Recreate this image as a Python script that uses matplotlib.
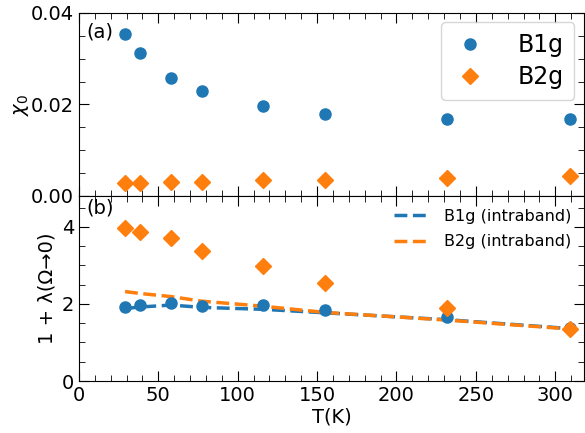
import matplotlib
matplotlib.use("Agg")
import matplotlib.pyplot as plt
from matplotlib.ticker import MultipleLocator

T = [29.0, 38.7, 58.0, 77.4, 116.0, 154.7, 232.1, 309.4]
chi0_b1g = [0.0353, 0.0313, 0.0258, 0.0230, 0.0196, 0.0179, 0.0168, 0.0168]
chi0_b2g = [0.0028, 0.0028, 0.0030, 0.0031, 0.0034, 0.0035, 0.0039, 0.0043]
lam_b1g = [1.91, 1.97, 2.03, 1.95, 1.96, 1.85, 1.67, 1.38]
lam_b2g = [3.98, 3.86, 3.70, 3.37, 2.99, 2.54, 1.90, 1.36]
intra_b1g = [1.88, 1.92, 1.97, 1.91, 1.86, 1.77, 1.59, 1.36]
intra_b2g = [2.32, 2.27, 2.19, 2.07, 1.94, 1.78, 1.58, 1.35]

blue = "#1f77b4"
orange = "#ff7f0e"

fig = plt.figure(figsize=(5.85, 4.33), dpi=100)
ax1 = fig.add_axes([0.135, 0.5475, 0.863, 0.4225])
ax2 = fig.add_axes([0.135, 0.12, 0.863, 0.4275], sharex=ax1)

fs = 14
for ax in (ax1, ax2):
    ax.tick_params(direction="in", which="both", top=True, right=True, labelsize=fs)
    ax.tick_params(which="major", length=7)
    ax.tick_params(which="minor", length=4)
    ax.xaxis.set_major_locator(MultipleLocator(50))
    ax.xaxis.set_minor_locator(MultipleLocator(10))

ax1.plot(T, chi0_b1g, "o", color=blue, ms=8, ls="none", label="B1g")
ax1.plot(T, chi0_b2g, "D", color=orange, ms=8, ls="none", label="B2g")
ax1.set_ylim(0, 0.04)
ax1.yaxis.set_major_locator(MultipleLocator(0.02))
ax1.yaxis.set_minor_locator(MultipleLocator(0.005))
ax1.set_ylabel(r"$\chi_0$", fontsize=fs, labelpad=0)
ax1.tick_params(labelbottom=False)
ax1.text(0.015, 0.95, "(a)", transform=ax1.transAxes, fontsize=fs, va="top")
ax1.legend(loc="upper right", fontsize=17, handletextpad=1.2, borderpad=0.45,
           handlelength=1.6, labelspacing=0.35, borderaxespad=0.4)

ax2.plot(T, intra_b1g, "--", color=blue, lw=2.5, label="B1g (intraband)")
ax2.plot(T, intra_b2g, "--", color=orange, lw=2.5, label="B2g (intraband)")
ax2.plot(T, lam_b1g, "o", color=blue, ms=8, ls="none")
ax2.plot(T, lam_b2g, "D", color=orange, ms=8, ls="none")
ax2.set_ylim(0, 4.8)
ax2.yaxis.set_major_locator(MultipleLocator(2))
ax2.yaxis.set_minor_locator(MultipleLocator(0.5))
ax2.set_xlim(0, 318)
ax2.set_xlabel("T(K)", fontsize=fs, labelpad=2)
ax2.set_ylabel("1 + λ(Ω→0)", fontsize=fs)
ax2.text(0.015, 0.985, "(b)", transform=ax2.transAxes, fontsize=fs, va="top")
ax2.legend(loc="upper right", fontsize=11.5, frameon=False, handlelength=2.0,
           handletextpad=1.1, labelspacing=0.65, borderaxespad=0.4)

fig.savefig("out.png", dpi=100)
